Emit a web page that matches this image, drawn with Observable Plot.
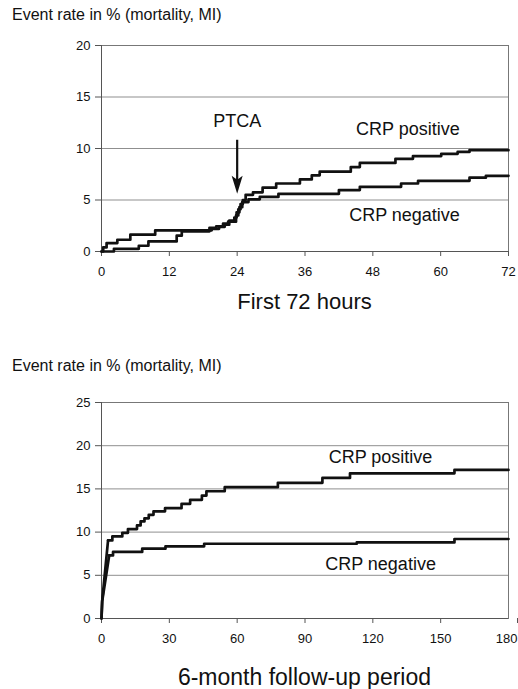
<!DOCTYPE html>
<html>
<head>
<meta charset="utf-8">
<script src="https://cdn.jsdelivr.net/npm/d3@7"></script>
<script src="https://cdn.jsdelivr.net/npm/@observablehq/plot@0.6"></script>
<style>
  html, body { margin: 0; padding: 0; background: #fff; }
  body { width: 518px; font-family: "Liberation Sans", Arial, sans-serif; color: #111; }
  .ttl { padding-left: 12px; font-size: 16px; white-space: nowrap; }
  .xl { margin-left: 101px; width: 407px; text-align: center; white-space: nowrap; }
  svg { display: block; }
  #err { font-size: 11px; color: red; white-space: pre-wrap; }
</style>
</head>
<body>
<div class="ttl" style="height:30px; line-height:30px;">Event rate in % (mortality, MI)</div>
<div id="top"></div>
<div class="xl" style="height:32px; line-height:32px; font-size:22px;">First 72 hours</div>
<div class="ttl" style="height:24px; line-height:16px; padding-top:40px;">Event rate in % (mortality, MI)</div>
<div id="bot"></div>
<div class="xl" style="height:31px; line-height:38px; font-size:23px;">6-month follow-up period</div>
<div id="err"></div>
<script>
// ---- Top panel: first 72 hours ----
const hourTicks = [0, 12, 24, 36, 48, 60, 72];
const rateTicksTop = [0, 5, 10, 15, 20];
const posHours = [0, 2.2, 6.6, 8.3, 13.3, 14.2, 19.1, 20.3, 21.5, 22.4, 23.8, 24.2, 24.6, 25.0, 25.5, 26.8, 28.5, 30.9, 35.1, 37.2, 38.6, 44.1, 45.7, 52.0, 55.1, 60.1, 63.0, 65.1, 72];
const posRate72 = [0, 0.26, 0.56, 0.98, 1.54, 1.96, 2.3, 2.45, 2.7, 2.9, 3.5, 4.1, 4.6, 5.0, 5.5, 5.75, 6.2, 6.6, 7.0, 7.4, 7.75, 8.2, 8.6, 9.0, 9.26, 9.48, 9.67, 9.84, 9.84];
const negHours = [0, 0.3, 0.9, 2.8, 5.1, 9.5, 19.5, 20.8, 21.8, 22.6, 23.5, 23.9, 24.4, 24.9, 26.0, 28.0, 31.3, 42.0, 45.7, 53.0, 56.0, 65.1, 68.0, 72];
const negRate72 = [0, 0.4, 0.82, 1.14, 1.63, 2.06, 2.2, 2.4, 2.6, 3.0, 3.3, 3.8, 4.3, 4.8, 5.07, 5.3, 5.6, 5.96, 6.28, 6.6, 6.86, 7.17, 7.35, 7.35];

// ---- Bottom panel: 6-month follow-up ----
const dayTicks = [0, 30, 60, 90, 120, 150, 180];
const rateTicksBot = [0, 5, 10, 15, 20, 25];
const posRiseDays = [0, 0.3, 2.9];
const posRiseRate = [0, 2.0, 9.04];
const posDays = [2.9, 4.8, 9.2, 11.7, 15.7, 17.3, 19.0, 20.9, 23.0, 28.1, 35.4, 39.2, 44.4, 46.4, 54.5, 78.0, 97.7, 109.9, 156.1, 180];
const posRate180 = [9.04, 9.5, 9.92, 10.35, 10.77, 11.23, 11.6, 12.0, 12.4, 12.77, 13.27, 13.73, 14.23, 14.73, 15.2, 15.7, 16.27, 16.8, 17.2, 17.2];
const negRiseDays = [0, 0.3, 3.4];
const negRiseRate = [0, 2.0, 7.3];
const negDays = [3.4, 5.1, 18.0, 28.3, 45.4, 112.9, 156.1, 180];
const negRate180 = [7.3, 7.7, 8.08, 8.35, 8.65, 8.8, 9.2, 9.2];

// ---- Annotations ----
const seriesLabels = ["CRP positive", "CRP negative"];
const topLabelX = [54.2, 53.6];
const topLabelY = [11.9, 3.5];
const botLabelX = [123.4, 123.4];
const botLabelY = [18.7, 6.3];
const ptcaText = "PTCA";
const ptcaHour = 24;
const ptcaTextY = 12.6;
const ptcaArrowFrom = 10.8;
const ptcaArrowTo = 5.6;

try {
const zip = (xs, ys) => xs.map((x, i) => ({x, y: ys[i]}));
const lbl = (xs, ys) => seriesLabels.map((t, i) => ({x: xs[i], y: ys[i], t}));

// narrow, filled arrow head with its tip at the dot's anchor
const arrowHead = {draw(ctx) { ctx.moveTo(0, 0); ctx.lineTo(-5.5, -18); ctx.lineTo(0, -14); ctx.lineTo(5.5, -18); ctx.closePath(); }};

const baseStyle = {fontFamily: "Liberation Sans, Arial, sans-serif", fontSize: "13px", color: "#111"};
const lineOpts = {x: "x", y: "y", stroke: "#111", strokeWidth: 2.7, curve: "step-after"};
const axisFont = {fontSize: 13, fontFamily: "Liberation Sans, Arial, sans-serif", fill: "#111"};

const topChart = Plot.plot({
  width: 518, height: 256,
  marginLeft: 101, marginRight: 10, marginTop: 15, marginBottom: 35,
  style: baseStyle,
  x: {domain: [0, 72]},
  y: {domain: [0, 20]},
  marks: [
    Plot.gridY(rateTicksTop, {stroke: "#8f8f8f", strokeOpacity: 1, strokeWidth: 1}),
    Plot.frame({stroke: "#777"}),
    Plot.axisX(hourTicks, {tickSize: 5, tickPadding: 10, label: null, stroke: "#555", ...axisFont}),
    Plot.axisY(rateTicksTop, {tickSize: 6, tickPadding: 5, label: null, stroke: "#555", ...axisFont}),
    Plot.ruleX([0], {stroke: "#555"}),
    Plot.ruleY([0], {stroke: "#555"}),
    Plot.line(zip(negHours, negRate72), lineOpts),
    Plot.line(zip(posHours, posRate72), lineOpts),
    Plot.text(lbl(topLabelX, topLabelY), {x: "x", y: "y", text: "t", fontSize: 18, fill: "#111"}),
    Plot.text([{x: ptcaHour, y: ptcaTextY, t: ptcaText}], {x: "x", y: "y", text: "t", fontSize: 18, fill: "#111"}),
    Plot.ruleX([{x: ptcaHour, y1: ptcaArrowFrom, y2: ptcaArrowTo}], {x: "x", y1: "y1", y2: "y2", stroke: "#111", strokeWidth: 2.2, insetBottom: 10}),
    Plot.dot([{x: ptcaHour, y: ptcaArrowTo}], {x: "x", y: "y", symbol: arrowHead, fill: "#111", stroke: "none", r: 5})
  ]
});
document.getElementById("top").appendChild(topChart);

const botChart = Plot.plot({
  width: 518, height: 276,
  marginLeft: 101, marginRight: 10, marginTop: 20, marginBottom: 40,
  style: baseStyle,
  x: {domain: [0, 180]},
  y: {domain: [0, 25]},
  marks: [
    Plot.gridY(rateTicksBot, {stroke: "#8f8f8f", strokeOpacity: 1, strokeWidth: 1}),
    Plot.frame({stroke: "#777"}),
    Plot.axisX(dayTicks.slice(0, -1), {tickSize: 5, tickPadding: 10, label: null, stroke: "#555", ...axisFont}),
    Plot.axisX(dayTicks.slice(-1), {tickSize: 5, tickPadding: 10, label: null, stroke: "#555", textAnchor: "end", dx: 9, ...axisFont}),
    Plot.axisY(rateTicksBot, {tickSize: 6, tickPadding: 5, label: null, stroke: "#555", ...axisFont}),
    Plot.ruleX([0], {stroke: "#555"}),
    Plot.ruleY([0], {stroke: "#555"}),
    Plot.line(zip(negRiseDays, negRiseRate), {x: "x", y: "y", stroke: "#111", strokeWidth: 2.7}),
    Plot.line(zip(posRiseDays, posRiseRate), {x: "x", y: "y", stroke: "#111", strokeWidth: 2.7}),
    Plot.line(zip(negDays, negRate180), lineOpts),
    Plot.line(zip(posDays, posRate180), lineOpts),
    Plot.text(lbl(botLabelX, botLabelY), {x: "x", y: "y", text: "t", fontSize: 18, fill: "#111"})
  ]
});
document.getElementById("bot").appendChild(botChart);
} catch (e) {
  document.getElementById("err").textContent = String(e && e.stack || e);
}
</script>
</body>
</html>
